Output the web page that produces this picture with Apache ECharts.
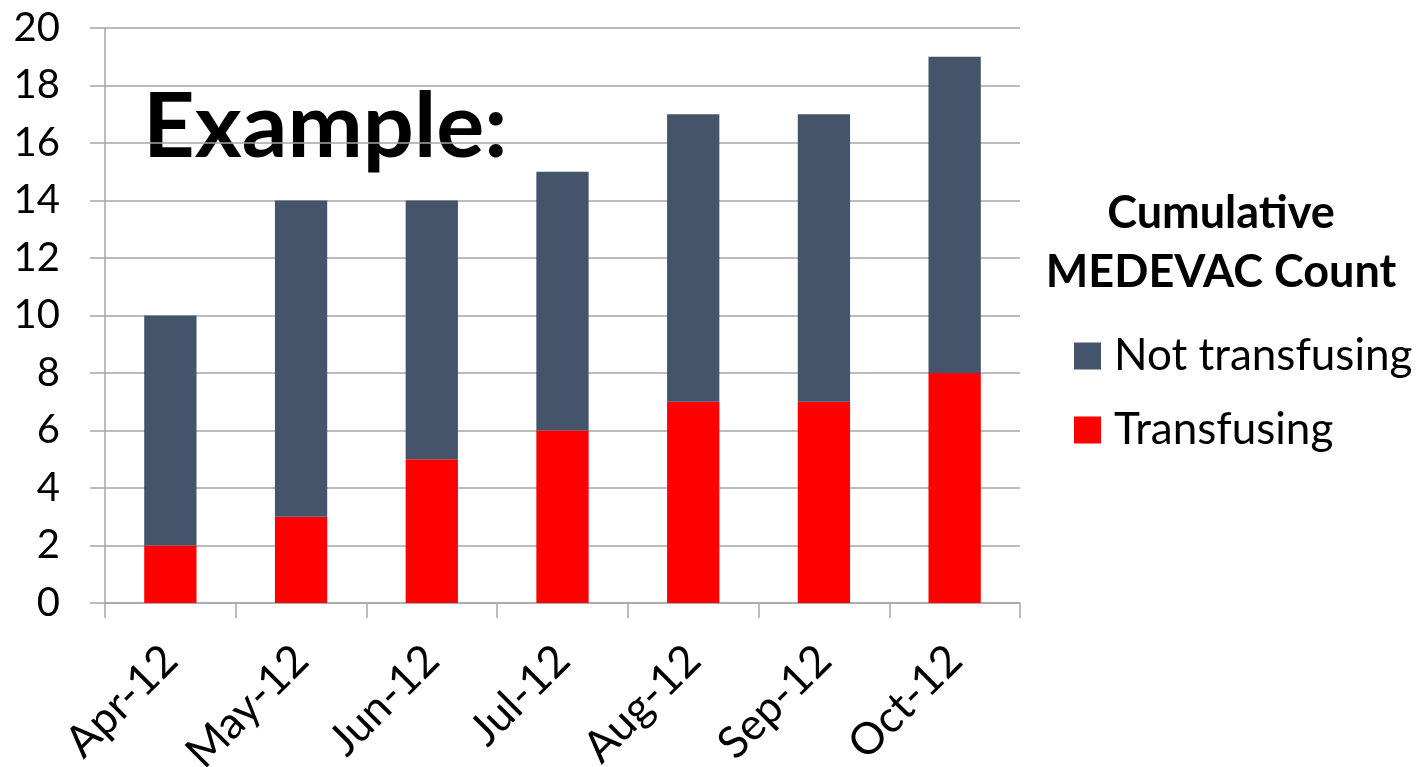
<!DOCTYPE html>
<html><head><meta charset="utf-8">
<script src="https://cdn.jsdelivr.net/npm/echarts@6/dist/echarts.min.js"></script>
<style>html,body{margin:0;padding:0;background:#fff}#c{width:1418px;height:767px}</style>
</head><body><div id="c"></div>
<script>
const categories = ['Apr-12','May-12','Jun-12','Jul-12','Aug-12','Sep-12','Oct-12'];
const transfusing = [2,3,5,6,7,7,8];
const notTransfusing = [8,11,9,9,10,10,11];
const yTicks = {min:0, max:20, interval:2};
const legendTitle = 'Cumulative\nMEDEVAC Count';
const overlayText = 'Example:';

const font = 'Lato, "Open Sans", sans-serif';
const chart = echarts.init(document.getElementById('c'));
chart.setOption({
  animation:false,
  backgroundColor:'#fff',
  grid:{left:105,right:398,top:28,bottom:164,containLabel:false,outerBoundsMode:'none'},
  legend:{
    orient:'vertical', left:1069, top:329, itemWidth:27, itemHeight:27, itemGap:30,
    icon:'rect',
    data:['Not transfusing','Transfusing'],
    textStyle:{fontFamily:font,fontSize:44,color:'#000',padding:[0,0,0,8]}
  },
  graphic:[
    {type:'text',x:1221,y:184,style:{text:legendTitle,fontFamily:font,fontWeight:'bold',fontSize:45,lineHeight:59,fill:'#000',align:'center',verticalAlign:'top'}},
    {type:'text',left:143,top:83,style:{text:overlayText,fontFamily:font,fontWeight:'bold',fontSize:90,fill:'#000'}}
  ],
  xAxis:{
    type:'category', data:categories,
    axisLine:{lineStyle:{color:'#a6a6a6',width:1.5}},
    axisTick:{show:true,length:15,alignWithLabel:false,lineStyle:{color:'#a6a6a6',width:1.5}},
    axisLabel:{rotate:45,margin:50,fontFamily:font,fontSize:44,color:'#000',interval:0}
  },
  yAxis:{
    type:'value', min:yTicks.min, max:yTicks.max, interval:yTicks.interval,
    axisLine:{show:true,lineStyle:{color:'#a6a6a6',width:1.5}},
    axisTick:{show:true,length:15,lineStyle:{color:'#a6a6a6',width:1.5}},
    splitLine:{lineStyle:{color:'#a6a6a6',width:1.5}},
    axisLabel:{margin:45,fontFamily:font,fontSize:40,color:'#000'}
  },
  series:[
    {name:'Transfusing',type:'bar',stack:'t',data:transfusing,barWidth:'40%',itemStyle:{color:'#FF0000'}},
    {name:'Not transfusing',type:'bar',stack:'t',data:notTransfusing,barWidth:'40%',itemStyle:{color:'#44546A'}}
  ]
});
</script></body></html>
